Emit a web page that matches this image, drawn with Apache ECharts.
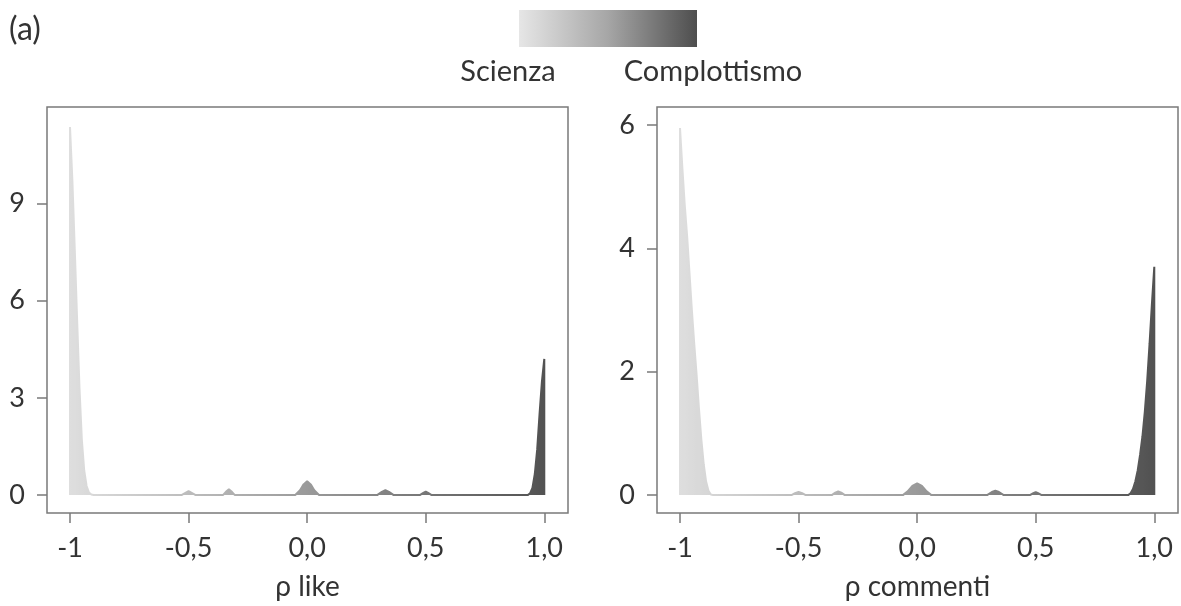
<!DOCTYPE html>
<html>
<head>
<meta charset="utf-8">
<script src="https://cdn.jsdelivr.net/npm/echarts@6/dist/echarts.min.js"></script>
<style>
  html, body { margin: 0; padding: 0; background: #fff; }
  #chart { width: 1181px; height: 606px; }
</style>
</head>
<body>
<div id="chart"></div>
<script>
// densita' per la correlazione rho (like)
const likeX = [-1, -1, -0.99, -0.98, -0.97, -0.96, -0.95, -0.94, -0.93, -0.92, -0.91, -0.9,
  -0.53, -0.515, -0.5, -0.485, -0.47,
  -0.355, -0.34, -0.33, -0.32, -0.305,
  -0.05, -0.03, -0.015, 0, 0.015, 0.03, 0.05,
  0.295, 0.315, 0.33, 0.345, 0.365,
  0.475, 0.49, 0.5, 0.51, 0.525,
  0.93, 0.94, 0.95, 0.96, 0.97, 0.98, 0.99, 1, 1]
const likeY = [0, 11.35, 9.7, 7.6, 5.4, 3.3, 1.7, 0.75, 0.28, 0.08, 0.02, 0,
  0, 0.06, 0.12, 0.06, 0,
  0, 0.12, 0.18, 0.12, 0,
  0, 0.15, 0.33, 0.43, 0.33, 0.15, 0,
  0, 0.1, 0.15, 0.1, 0,
  0, 0.07, 0.11, 0.07, 0,
  0, 0.05, 0.22, 0.65, 1.4, 2.5, 3.5, 4.2, 0]

// densita' per la correlazione rho (commenti)
const commX = [-1, -1, -0.99, -0.98, -0.97, -0.96, -0.95, -0.94, -0.93, -0.92, -0.91, -0.9, -0.89, -0.88, -0.87, -0.86,
  -0.53, -0.515, -0.5, -0.485, -0.47,
  -0.36, -0.345, -0.333, -0.32, -0.305,
  -0.06, -0.04, -0.02, 0, 0.02, 0.04, 0.06,
  0.295, 0.315, 0.33, 0.345, 0.365,
  0.475, 0.49, 0.5, 0.51, 0.525,
  0.89, 0.9, 0.91, 0.92, 0.93, 0.94, 0.95, 0.96, 0.97, 0.98, 0.99, 1, 1]
const commY = [0, 5.95, 5.3, 4.7, 4.2, 3.6, 3.0, 2.45, 1.95, 1.4, 0.9, 0.5, 0.22, 0.07, 0.01, 0,
  0, 0.03, 0.05, 0.03, 0,
  0, 0.04, 0.06, 0.04, 0,
  0, 0.06, 0.15, 0.19, 0.15, 0.06, 0,
  0, 0.05, 0.07, 0.05, 0,
  0, 0.03, 0.05, 0.03, 0,
  0, 0.03, 0.1, 0.22, 0.4, 0.65, 0.95, 1.35, 1.85, 2.45, 3.1, 3.7, 0]

const xTicks = [-1, -0.5, 0, 0.5, 1]
const likeTicks = [0, 3, 6, 9]
const commTicks = [0, 2, 4, 6]
const legendNames = ['Scienza', 'Complottismo']
const axisNames = ['ρ like', 'ρ commenti']

const font = 'Lato, "Open Sans", sans-serif'
const textColor = '#333'
const frameColor = '#7a7a7a'

function pairs(xs, ys) {
  return xs.map((x, i) => [x, ys[i]])
}

function xLabel(v) {
  if (v === -1) return '-1'
  return v.toFixed(1).replace('.', ',')
}

function xAxis(idx) {
  return {
    type: 'value',
    gridIndex: idx,
    position: 'bottom',
    min: -1.097,
    max: 1.1,
    name: axisNames[idx],
    nameLocation: 'middle',
    nameGap: 60,
    nameTextStyle: { fontFamily: font, fontSize: 28, color: textColor },
    axisLine: { show: false, onZero: false },
    splitLine: { show: false },
    axisTick: {
      show: true,
      length: 10,
      customValues: xTicks,
      lineStyle: { color: frameColor, width: 1.5 }
    },
    axisLabel: {
      customValues: xTicks,
      margin: 22,
      formatter: xLabel,
      fontFamily: font,
      fontSize: 27,
      color: textColor
    }
  }
}

function yAxis(idx, min, max, ticks) {
  return {
    type: 'value',
    gridIndex: idx,
    position: 'left',
    min: min,
    max: max,
    axisLine: { show: false, onZero: false },
    splitLine: { show: false },
    axisTick: {
      show: true,
      length: 10,
      customValues: ticks,
      lineStyle: { color: frameColor, width: 1.5 }
    },
    axisLabel: {
      customValues: ticks,
      margin: 22,
      fontFamily: font,
      fontSize: 27,
      color: textColor
    }
  }
}

function densitySeries(idx, data) {
  return {
    type: 'line',
    xAxisIndex: idx,
    yAxisIndex: idx,
    data: data,
    showSymbol: false,
    symbol: 'none',
    smooth: false,
    animation: false,
    lineStyle: { width: 2 },
    areaStyle: { opacity: 1 }
  }
}

const chart = echarts.init(document.getElementById('chart'), null, { renderer: 'canvas' })

chart.setOption({
  backgroundColor: '#fff',
  animation: false,
  grid: [
    { left: 47, top: 107, width: 521, height: 408, show: true, borderColor: frameColor, borderWidth: 1.5, backgroundColor: 'transparent' },
    { left: 657, top: 107, width: 521, height: 408, show: true, borderColor: frameColor, borderWidth: 1.5, backgroundColor: 'transparent' }
  ],
  xAxis: [xAxis(0), xAxis(1)],
  yAxis: [
    yAxis(0, -0.553, 11.97, likeTicks),
    yAxis(1, -0.29, 6.29, commTicks)
  ],
  visualMap: {
    type: 'continuous',
    show: false,
    dimension: 0,
    min: -1,
    max: 1,
    seriesIndex: [0, 1],
    inRange: { color: ['#dedede', '#9a9a9a', '#525252'] }
  },
  graphic: [
    {
      type: 'text',
      left: 9,
      top: 14,
      style: { text: '(a)', font: '32px ' + font, fill: textColor }
    },
    {
      type: 'rect',
      shape: { x: 519, y: 10, width: 178, height: 37 },
      style: {
        fill: new echarts.graphic.LinearGradient(0, 0, 1, 0, [
          { offset: 0, color: '#e6e6e6' },
          { offset: 0.5, color: '#a6a6a6' },
          { offset: 1, color: '#4e4e4e' }
        ])
      }
    },
    {
      type: 'text',
      x: 508,
      y: 72,
      style: { text: legendNames[0], font: '29px ' + font, fill: textColor, align: 'center', verticalAlign: 'middle' }
    },
    {
      type: 'text',
      x: 713,
      y: 72,
      style: { text: legendNames[1], font: '29px ' + font, fill: textColor, align: 'center', verticalAlign: 'middle' }
    }
  ],
  series: [
    densitySeries(0, pairs(likeX, likeY)),
    densitySeries(1, pairs(commX, commY))
  ]
})
</script>
</body>
</html>
